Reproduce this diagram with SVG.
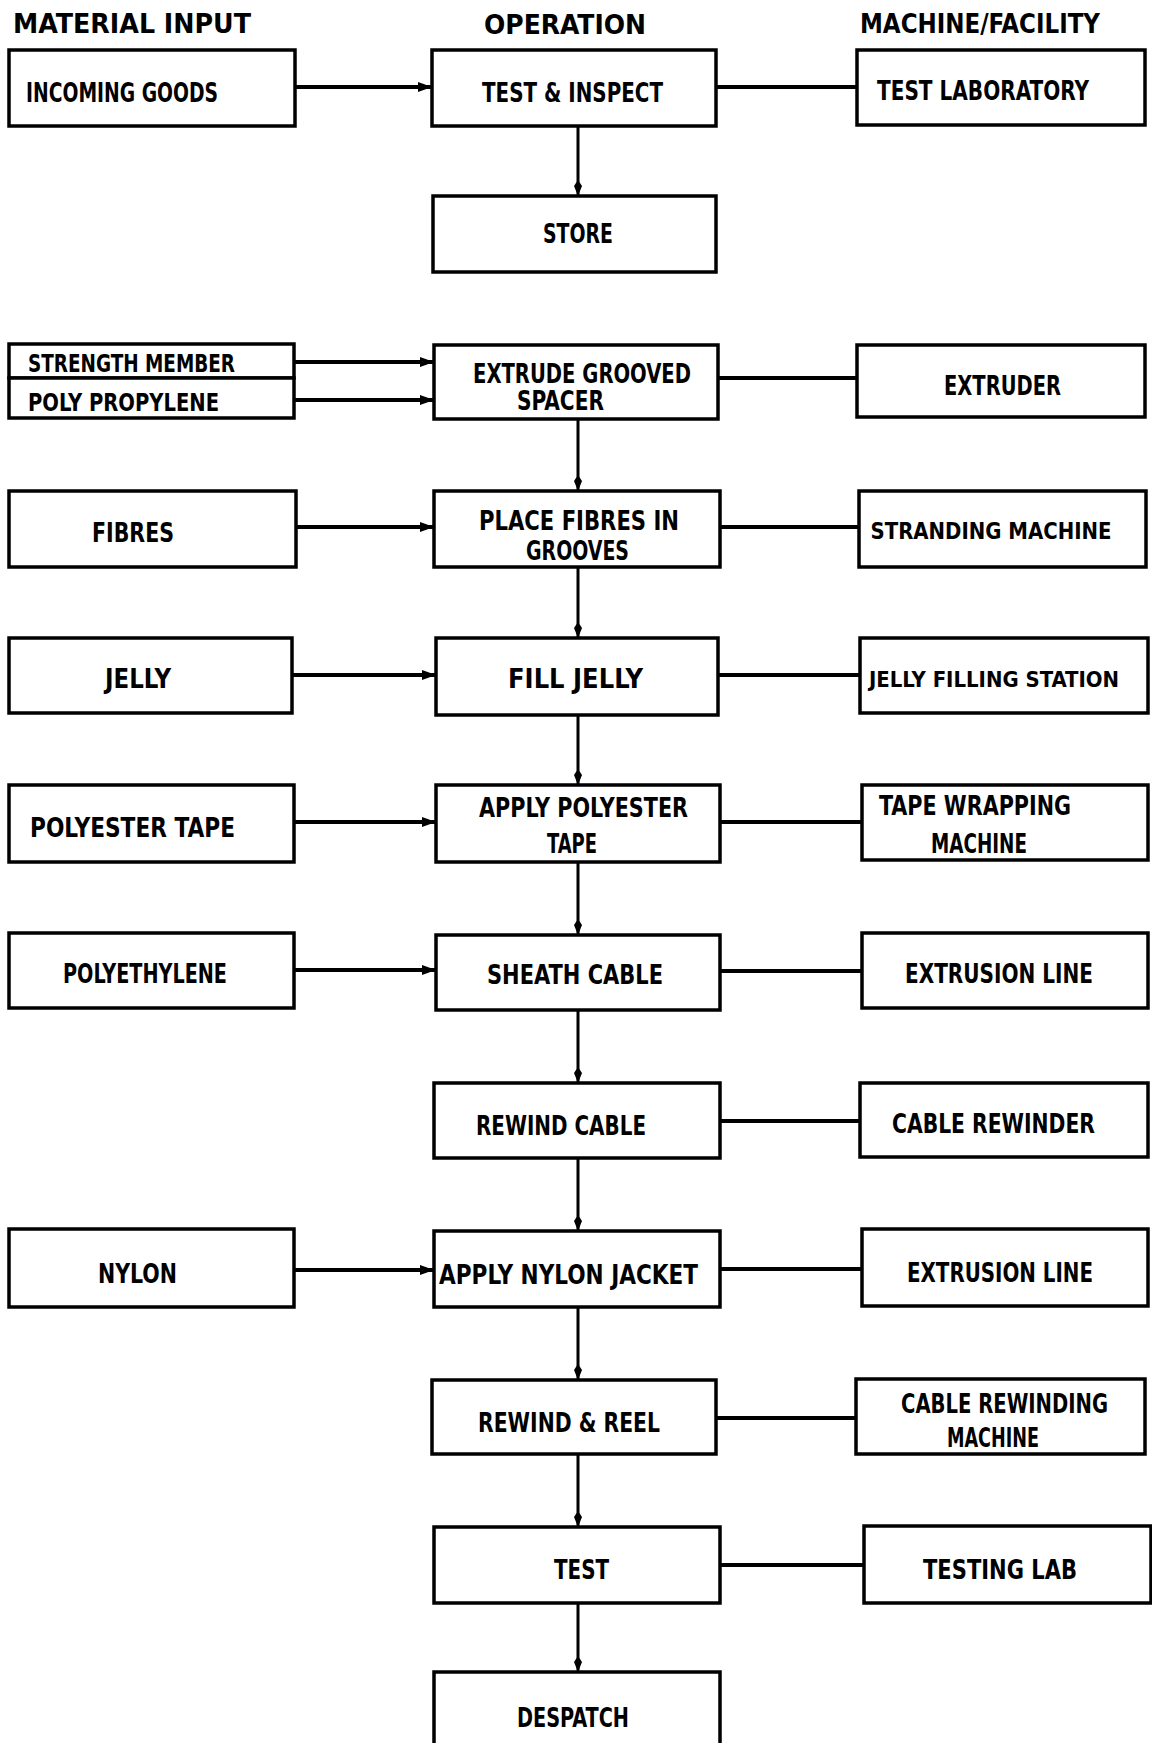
<svg xmlns="http://www.w3.org/2000/svg" width="1152" height="1743" viewBox="0 0 1152 1743">
<defs>
<style>
rect.b{fill:#fff;stroke:#000;stroke-width:3.5}
text{font-family:"DejaVu Sans Condensed","Liberation Sans Narrow","Liberation Sans",sans-serif;font-weight:bold;font-size:26px;fill:#000}
text.s{font-size:24px}
text.m{font-size:23px;text-anchor:middle}
text.n{font-size:21px;text-anchor:middle}
.h{stroke:#000;stroke-width:4;fill:none}
.v{stroke:#000;stroke-width:3;fill:none}
</style>
<marker id="ah" markerUnits="userSpaceOnUse" markerWidth="16" markerHeight="12" refX="14" refY="5" orient="auto">
<path d="M0,0 L14,5 L0,10 z" fill="#000"/>
</marker>
<marker id="av" markerUnits="userSpaceOnUse" markerWidth="18" markerHeight="12" refX="16" refY="5" orient="auto">
<path d="M0,5 L6,1 L16,5 L6,9 z" fill="#000"/>
</marker>
</defs>
<rect width="1152" height="1743" fill="#fff"/>

<g id="headers">
<text x="13" y="33" textLength="238" lengthAdjust="spacingAndGlyphs">MATERIAL INPUT</text>
<text x="484" y="34" textLength="162" lengthAdjust="spacingAndGlyphs">OPERATION</text>
<text x="860" y="33" textLength="240" lengthAdjust="spacingAndGlyphs">MACHINE/FACILITY</text>
</g>

<g id="connectors">
<line class="h" x1="295" y1="87" x2="432" y2="87" marker-end="url(#ah)"/>
<line class="h" x1="294" y1="362" x2="434" y2="362" marker-end="url(#ah)"/>
<line class="h" x1="294" y1="400" x2="434" y2="400" marker-end="url(#ah)"/>
<line class="h" x1="296" y1="527" x2="434" y2="527" marker-end="url(#ah)"/>
<line class="h" x1="292" y1="675" x2="436" y2="675" marker-end="url(#ah)"/>
<line class="h" x1="294" y1="822" x2="436" y2="822" marker-end="url(#ah)"/>
<line class="h" x1="294" y1="970" x2="436" y2="970" marker-end="url(#ah)"/>
<line class="h" x1="294" y1="1270" x2="434" y2="1270" marker-end="url(#ah)"/>

<line class="h" x1="716" y1="87" x2="857" y2="87"/>
<line class="h" x1="718" y1="378" x2="857" y2="378"/>
<line class="h" x1="720" y1="527" x2="859" y2="527"/>
<line class="h" x1="718" y1="675" x2="860" y2="675"/>
<line class="h" x1="720" y1="822" x2="862" y2="822"/>
<line class="h" x1="720" y1="971" x2="862" y2="971"/>
<line class="h" x1="720" y1="1121" x2="860" y2="1121"/>
<line class="h" x1="720" y1="1269" x2="862" y2="1269"/>
<line class="h" x1="716" y1="1418" x2="856" y2="1418"/>
<line class="h" x1="720" y1="1565" x2="864" y2="1565"/>

<line class="v" x1="578" y1="126" x2="578" y2="196" marker-end="url(#av)"/>
<line class="v" x1="578" y1="419" x2="578" y2="491" marker-end="url(#av)"/>
<line class="v" x1="578" y1="567" x2="578" y2="638" marker-end="url(#av)"/>
<line class="v" x1="578" y1="715" x2="578" y2="785" marker-end="url(#av)"/>
<line class="v" x1="578" y1="862" x2="578" y2="935" marker-end="url(#av)"/>
<line class="v" x1="578" y1="1010" x2="578" y2="1083" marker-end="url(#av)"/>
<line class="v" x1="578" y1="1158" x2="578" y2="1231" marker-end="url(#av)"/>
<line class="v" x1="578" y1="1307" x2="578" y2="1380" marker-end="url(#av)"/>
<line class="v" x1="578" y1="1454" x2="578" y2="1527" marker-end="url(#av)"/>
<line class="v" x1="578" y1="1603" x2="578" y2="1672" marker-end="url(#av)"/>
</g>

<g id="incoming-goods"><rect class="b" x="9" y="50" width="286" height="76"/><text x="26" y="102" textLength="192" lengthAdjust="spacingAndGlyphs">INCOMING GOODS</text></g>
<g id="test-inspect"><rect class="b" x="432" y="50" width="284" height="76"/><text x="482" y="102" textLength="181" lengthAdjust="spacingAndGlyphs">TEST &amp; INSPECT</text></g>
<g id="test-laboratory"><rect class="b" x="857" y="50" width="288" height="75"/><text x="877" y="100" textLength="212" lengthAdjust="spacingAndGlyphs">TEST LABORATORY</text></g>
<g id="store"><rect class="b" x="433" y="196" width="283" height="76"/><text x="543" y="243" textLength="70" lengthAdjust="spacingAndGlyphs">STORE</text></g>

<g id="strength-member"><rect class="b" x="9" y="344" width="285" height="34"/><text class="s" x="28" y="372" textLength="207" lengthAdjust="spacingAndGlyphs">STRENGTH MEMBER</text></g>
<g id="poly-propylene"><rect class="b" x="9" y="378" width="285" height="40"/><text class="s" x="28" y="411" textLength="191" lengthAdjust="spacingAndGlyphs">POLY PROPYLENE</text></g>
<g id="extrude-grooved-spacer"><rect class="b" x="434" y="345" width="284" height="74"/><text x="473" y="383" textLength="218" lengthAdjust="spacingAndGlyphs">EXTRUDE GROOVED</text><text x="517" y="410" textLength="87" lengthAdjust="spacingAndGlyphs">SPACER</text></g>
<g id="extruder"><rect class="b" x="857" y="345" width="288" height="72"/><text x="944" y="395" textLength="117" lengthAdjust="spacingAndGlyphs">EXTRUDER</text></g>

<g id="fibres"><rect class="b" x="9" y="491" width="287" height="76"/><text x="92" y="542" textLength="82" lengthAdjust="spacingAndGlyphs">FIBRES</text></g>
<g id="place-fibres"><rect class="b" x="434" y="491" width="286" height="76"/><text x="479" y="530" textLength="200" lengthAdjust="spacingAndGlyphs">PLACE FIBRES IN</text><text x="526" y="560" textLength="103" lengthAdjust="spacingAndGlyphs">GROOVES</text></g>
<g id="stranding-machine"><rect class="b" x="859" y="491" width="287" height="76"/><text class="m" x="991" y="539" textLength="241" lengthAdjust="spacingAndGlyphs">STRANDING MACHINE</text></g>

<g id="jelly"><rect class="b" x="9" y="638" width="283" height="75"/><text x="105" y="688" textLength="66" lengthAdjust="spacingAndGlyphs">JELLY</text></g>
<g id="fill-jelly"><rect class="b" x="436" y="638" width="282" height="77"/><text x="508" y="688" textLength="135" lengthAdjust="spacingAndGlyphs">FILL JELLY</text></g>
<g id="jelly-filling-station"><rect class="b" x="860" y="638" width="288" height="75"/><text class="n" x="994" y="687" textLength="250" lengthAdjust="spacingAndGlyphs">JELLY FILLING STATION</text></g>

<g id="polyester-tape"><rect class="b" x="9" y="785" width="285" height="77"/><text x="30" y="837" textLength="205" lengthAdjust="spacingAndGlyphs">POLYESTER TAPE</text></g>
<g id="apply-polyester-tape"><rect class="b" x="436" y="785" width="284" height="77"/><text x="479" y="817" textLength="209" lengthAdjust="spacingAndGlyphs">APPLY POLYESTER</text><text x="547" y="853" textLength="50" lengthAdjust="spacingAndGlyphs">TAPE</text></g>
<g id="tape-wrapping-machine"><rect class="b" x="862" y="785" width="286" height="75"/><text x="879" y="815" textLength="192" lengthAdjust="spacingAndGlyphs">TAPE WRAPPING</text><text x="931" y="853" textLength="96" lengthAdjust="spacingAndGlyphs">MACHINE</text></g>

<g id="polyethylene"><rect class="b" x="9" y="933" width="285" height="75"/><text x="63" y="983" textLength="164" lengthAdjust="spacingAndGlyphs">POLYETHYLENE</text></g>
<g id="sheath-cable"><rect class="b" x="436" y="935" width="284" height="75"/><text x="487" y="984" textLength="176" lengthAdjust="spacingAndGlyphs">SHEATH CABLE</text></g>
<g id="extrusion-line-1"><rect class="b" x="862" y="933" width="286" height="75"/><text x="905" y="983" textLength="188" lengthAdjust="spacingAndGlyphs">EXTRUSION LINE</text></g>

<g id="rewind-cable"><rect class="b" x="434" y="1083" width="286" height="75"/><text x="476" y="1135" textLength="170" lengthAdjust="spacingAndGlyphs">REWIND CABLE</text></g>
<g id="cable-rewinder"><rect class="b" x="860" y="1083" width="288" height="74"/><text x="892" y="1133" textLength="203" lengthAdjust="spacingAndGlyphs">CABLE REWINDER</text></g>

<g id="nylon"><rect class="b" x="9" y="1229" width="285" height="78"/><text x="98" y="1283" textLength="79" lengthAdjust="spacingAndGlyphs">NYLON</text></g>
<g id="apply-nylon-jacket"><rect class="b" x="434" y="1231" width="286" height="76"/><text x="439" y="1284" textLength="259" lengthAdjust="spacingAndGlyphs">APPLY NYLON JACKET</text></g>
<g id="extrusion-line-2"><rect class="b" x="862" y="1229" width="286" height="77"/><text x="907" y="1282" textLength="186" lengthAdjust="spacingAndGlyphs">EXTRUSION LINE</text></g>

<g id="rewind-reel"><rect class="b" x="432" y="1380" width="284" height="74"/><text x="478" y="1432" textLength="182" lengthAdjust="spacingAndGlyphs">REWIND &amp; REEL</text></g>
<g id="cable-rewinding-machine"><rect class="b" x="856" y="1379" width="289" height="75"/><text x="901" y="1413" textLength="207" lengthAdjust="spacingAndGlyphs">CABLE REWINDING</text><text x="947" y="1447" textLength="92" lengthAdjust="spacingAndGlyphs">MACHINE</text></g>

<g id="test"><rect class="b" x="434" y="1527" width="286" height="76"/><text x="554" y="1579" textLength="55" lengthAdjust="spacingAndGlyphs">TEST</text></g>
<g id="testing-lab"><rect class="b" x="864" y="1526" width="287" height="77"/><text x="923" y="1579" textLength="154" lengthAdjust="spacingAndGlyphs">TESTING LAB</text></g>

<g id="despatch"><rect class="b" x="434" y="1672" width="286" height="90"/><text x="517" y="1727" textLength="112" lengthAdjust="spacingAndGlyphs">DESPATCH</text></g>
</svg>
